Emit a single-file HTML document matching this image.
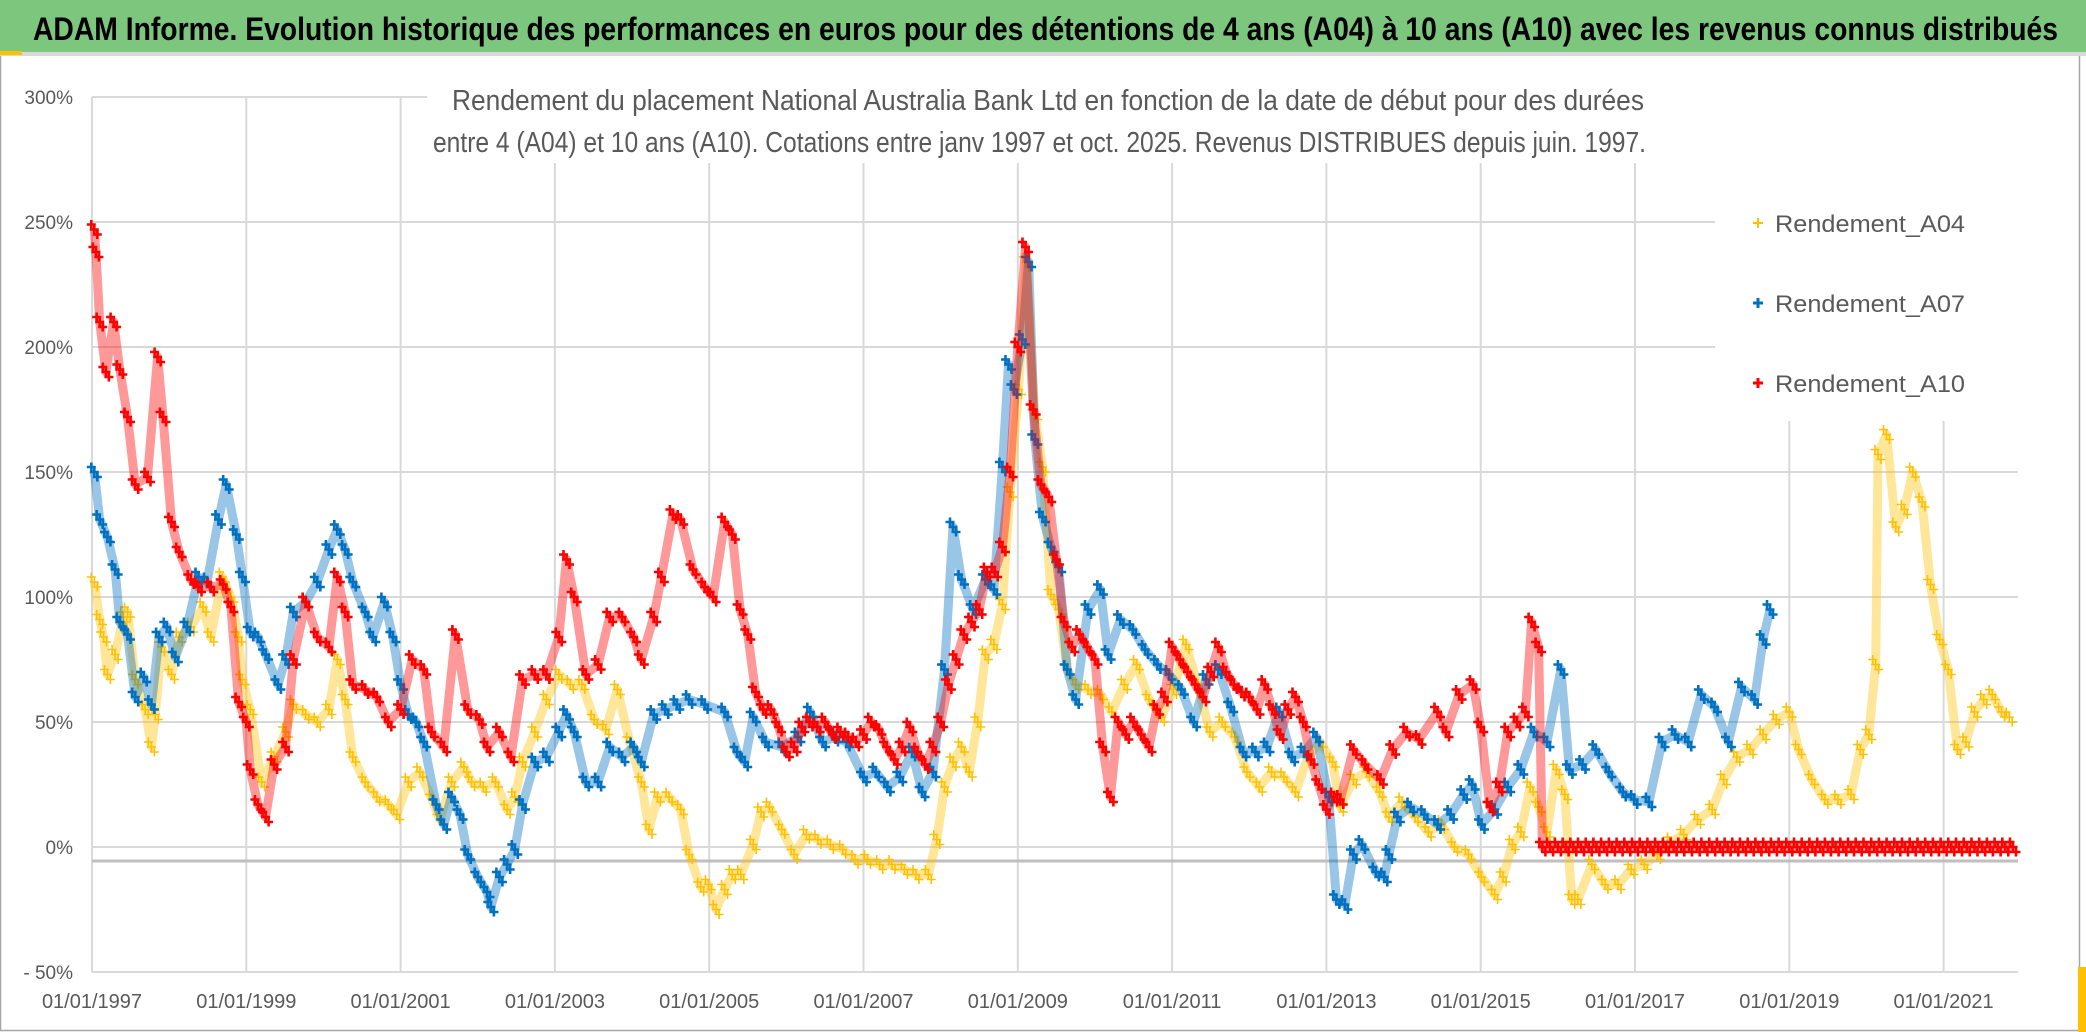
<!DOCTYPE html>
<html><head><meta charset="utf-8"><style>
html,body{margin:0;padding:0;background:#fff;}
svg{display:block;font-family:"Liberation Sans",sans-serif;}
</style></head><body>
<svg id="chart" width="2086" height="1032" viewBox="0 0 2086 1032">
<rect x="0" y="0" width="2086" height="1032" fill="#fff"/>
<rect x="0.5" y="0.5" width="2079" height="1030" fill="none" stroke="#a6a6a6" stroke-width="1.5"/>
<rect x="0" y="0" width="2086" height="52" fill="#7dc67e"/>
<rect x="0" y="52" width="2086" height="4" fill="#d9d9d9"/>
<rect x="0" y="51" width="22" height="4" fill="#ffc000"/>
<text x="33" y="40" font-size="32" font-weight="bold" fill="#000" textLength="2025" lengthAdjust="spacingAndGlyphs">ADAM Informe. Evolution historique des performances en euros pour des détentions de 4 ans (A04) à 10 ans (A10) avec les revenus connus distribués</text>
<rect x="2078" y="967" width="8" height="65" fill="#ffc000"/>
<g id="grid"></g>
<rect x="427" y="60" width="1593" height="103" fill="#fff"/>
<rect x="1715" y="163" width="305" height="258" fill="#fff"/>
<text x="452" y="110" font-size="29" fill="#595959" textLength="1192" lengthAdjust="spacingAndGlyphs">Rendement du placement National Australia Bank Ltd en fonction de la date de début pour des durées</text>
<text x="433" y="152" font-size="29" fill="#595959" textLength="1213" lengthAdjust="spacingAndGlyphs">entre 4 (A04) et 10 ans (A10). Cotations entre janv 1997 et oct. 2025. Revenus DISTRIBUES depuis juin. 1997.</text>
<g id="axes"></g>
<g id="series"></g>
<g id="legend">
  <g>
    <path d="M1753 223h10M1758 218v10" stroke="#ffc000" stroke-width="2"/>
    <text x="1775" y="232" font-size="24" fill="#595959" textLength="190" lengthAdjust="spacingAndGlyphs">Rendement_A04</text>
  </g>
  <g>
    <path d="M1753 303h10M1758 298v10" stroke="#0070c0" stroke-width="3"/>
    <text x="1775" y="312" font-size="24" fill="#595959" textLength="190" lengthAdjust="spacingAndGlyphs">Rendement_A07</text>
  </g>
  <g>
    <path d="M1753 383h10M1758 378v10" stroke="#ff0000" stroke-width="3"/>
    <text x="1775" y="392" font-size="24" fill="#595959" textLength="190" lengthAdjust="spacingAndGlyphs">Rendement_A10</text>
  </g>
</g>
</svg>
<script>
const yTicks = [-50, 0, 50, 100, 150, 200, 250, 300];
const yTickLabels = ["- 50%", "0%", "50%", "100%", "150%", "200%", "250%", "300%"];
const xTicks = [1997, 1999, 2001, 2003, 2005, 2007, 2009, 2011, 2013, 2015, 2017, 2019, 2021];
const xTickLabels = ["01/01/1997","01/01/1999","01/01/2001","01/01/2003","01/01/2005","01/01/2007","01/01/2009","01/01/2011","01/01/2013","01/01/2015","01/01/2017","01/01/2019","01/01/2021"];

const a04Years = [1997.03,1997.1,1997.15,1997.2,1997.3,1997.41,1997.46,1997.56,1997.69,1997.77,1997.82,1997.9,1998.03,1998.13,1998.28,1998.44,1998.54,1998.69,1998.8,1998.9,1998.95,1999.05,1999.2,1999.36,1999.51,1999.61,1999.77,1999.92,2000.07,2000.18,2000.28,2000.38,2000.54,2000.69,2000.84,2000.95,2001.1,2001.25,2001.41,2001.51,2001.66,2001.82,2001.92,2002.07,2002.23,2002.38,2002.48,2002.58,2002.74,2002.89,2003.05,2003.2,2003.35,2003.51,2003.66,2003.81,2003.97,2004.12,2004.22,2004.33,2004.48,2004.63,2004.74,2004.89,2004.99,2005.09,2005.2,2005.3,2005.41,2005.57,2005.67,2005.78,2005.94,2006.1,2006.26,2006.41,2006.57,2006.73,2006.89,2007.05,2007.21,2007.37,2007.53,2007.68,2007.84,2007.95,2008.05,2008.16,2008.27,2008.37,2008.48,2008.58,2008.69,2008.8,2008.9,2009.01,2009.11,2009.22,2009.32,2009.43,2009.53,2009.64,2009.75,2009.91,2010.07,2010.22,2010.38,2010.54,2010.7,2010.86,2011.02,2011.18,2011.33,2011.49,2011.65,2011.81,2011.97,2012.13,2012.29,2012.45,2012.6,2012.76,2012.92,2013.08,2013.18,2013.35,2013.52,2013.69,2013.81,2013.98,2014.15,2014.32,2014.49,2014.66,2014.84,2015.01,2015.18,2015.29,2015.41,2015.52,2015.64,2015.75,2015.86,2015.98,2016.09,2016.18,2016.26,2016.44,2016.61,2016.78,2016.95,2017.12,2017.29,2017.46,2017.63,2017.81,2018.0,2018.15,2018.32,2018.49,2018.66,2018.83,2019.0,2019.12,2019.29,2019.46,2019.63,2019.8,2019.92,2020.03,2020.12,2020.15,2020.26,2020.38,2020.49,2020.6,2020.72,2020.83,2020.95,2021.06,2021.18,2021.29,2021.4,2021.52,2021.63,2021.75,2021.85];
const a04Values = [106,91,84,69,77,92,94,67,55,40,53,80,69,84,88,96,84,108,100,84,67,55,26,36,46,57,53,50,55,75,59,36,26,20,17,13,26,30,19,11,26,32,26,24,26,15,20,34,46,59,69,65,65,51,47,63,42,26,7,20,20,15,-3,-16,-15,-25,-17,-11,-11,1,14,16,7,-3,5,3,1,-1,-5,-5,-7,-7,-9,-11,-11,3,24,34,40,30,50,77,81,97,142,183,234,173,152,101,95,71,65,63,61,54,65,73,59,52,63,81,65,46,50,44,30,24,30,28,22,36,42,34,16,27,30,22,12,18,12,6,9,0,-3,-12,-19,-12,1,6,24,16,6,31,21,-21,-21,-7,-15,-15,-9,-7,-3,2,5,11,15,27,36,39,45,51,54,39,27,19,19,21,39,45,73,157,165,128,135,150,138,105,83,71,39,42,54,59,61,54,52];

const a07Years = [1997.03,1997.1,1997.2,1997.3,1997.36,1997.46,1997.56,1997.67,1997.77,1997.87,1997.97,1998.08,1998.23,1998.38,1998.49,1998.64,1998.74,1998.87,1998.95,1999.05,1999.15,1999.25,1999.41,1999.51,1999.61,1999.77,1999.92,2000.07,2000.18,2000.28,2000.38,2000.54,2000.64,2000.79,2000.9,2001.0,2001.1,2001.2,2001.3,2001.46,2001.56,2001.66,2001.77,2001.87,2002.0,2002.12,2002.17,2002.28,2002.38,2002.48,2002.58,2002.74,2002.89,2003.05,2003.15,2003.25,2003.4,2003.56,2003.71,2003.87,2004.02,2004.12,2004.28,2004.43,2004.58,2004.74,2004.94,2005.2,2005.36,2005.46,2005.57,2005.73,2005.94,2006.15,2006.31,2006.47,2006.63,2006.78,2007.0,2007.16,2007.31,2007.47,2007.63,2007.76,2007.9,2008.05,2008.16,2008.27,2008.42,2008.58,2008.69,2008.8,2008.88,2008.95,2009.06,2009.14,2009.22,2009.32,2009.43,2009.53,2009.64,2009.75,2009.91,2010.07,2010.17,2010.33,2010.49,2010.65,2010.81,2010.96,2011.12,2011.28,2011.44,2011.6,2011.76,2011.92,2012.08,2012.23,2012.39,2012.55,2012.71,2012.87,2013.03,2013.13,2013.24,2013.35,2013.46,2013.64,2013.75,2013.81,2013.92,2014.09,2014.27,2014.44,2014.61,2014.78,2014.89,2015.01,2015.18,2015.35,2015.52,2015.69,2015.86,2016.04,2016.15,2016.32,2016.49,2016.66,2016.84,2016.99,2017.18,2017.35,2017.52,2017.69,2017.86,2018.03,2018.21,2018.38,2018.55,2018.66,2018.75];
const a07Values = [150,131,124,111,90,85,60,68,57,84,88,76,88,108,106,131,145,125,108,86,84,77,65,75,94,98,106,119,127,119,106,94,84,98,84,65,53,50,42,17,9,20,13,-3,-12,-18,-24,-12,-7,-1,17,34,36,46,53,46,26,26,40,36,40,34,53,55,57,59,57,54,38,34,52,42,40,44,54,42,44,42,28,30,24,28,38,22,30,71,128,107,95,107,103,152,193,183,203,234,163,132,120,112,71,59,95,103,77,91,87,79,73,69,63,50,67,71,56,38,38,40,54,36,38,44,20,-21,-23,-3,1,-10,-12,-3,12,16,13,9,13,21,25,9,15,24,31,46,42,71,31,33,39,30,22,19,18,42,45,42,61,56,42,64,59,83,95];

const a10Years = [1997.03,1997.05,1997.1,1997.18,1997.28,1997.36,1997.46,1997.56,1997.72,1997.85,1997.92,1998.03,1998.13,1998.28,1998.38,1998.54,1998.7,1998.8,1998.9,1999.0,1999.05,1999.15,1999.25,1999.36,1999.51,1999.61,1999.77,1999.92,2000.07,2000.18,2000.28,2000.38,2000.54,2000.69,2000.84,2001.0,2001.15,2001.3,2001.4,2001.56,2001.71,2001.87,2002.02,2002.12,2002.28,2002.43,2002.58,2002.74,2002.89,2003.05,2003.15,2003.25,2003.4,2003.56,2003.71,2003.87,2004.02,2004.12,2004.28,2004.38,2004.53,2004.63,2004.79,2004.94,2005.05,2005.2,2005.3,2005.4,2005.5,2005.6,2005.7,2005.8,2005.9,2006.0,2006.1,2006.2,2006.3,2006.4,2006.5,2006.6,2006.7,2006.8,2006.9,2007.0,2007.1,2007.2,2007.3,2007.4,2007.5,2007.6,2007.7,2007.8,2007.9,2008.0,2008.1,2008.2,2008.3,2008.4,2008.5,2008.6,2008.7,2008.8,2008.9,2009.0,2009.1,2009.2,2009.3,2009.4,2009.5,2009.6,2009.7,2009.8,2009.9,2010.0,2010.1,2010.2,2010.3,2010.4,2010.5,2010.6,2010.7,2010.8,2010.9,2011.0,2011.1,2011.2,2011.3,2011.4,2011.5,2011.6,2011.7,2011.8,2011.9,2012.0,2012.1,2012.2,2012.3,2012.4,2012.5,2012.6,2012.7,2012.8,2012.9,2013.0,2013.1,2013.18,2013.35,2013.5,2013.7,2013.86,2014.04,2014.2,2014.44,2014.55,2014.72,2014.9,2015.0,2015.12,2015.24,2015.35,2015.47,2015.58,2015.66,2015.75,2015.8,2015.9,2016.0,2016.1,2016.2,2016.3,2016.4,2016.5,2016.6,2016.7,2016.8,2016.9,2017.0,2017.1,2017.2,2017.3,2017.4,2017.5,2017.6,2017.7,2017.8,2017.9,2018.0,2018.1,2018.2,2018.3,2018.4,2018.5,2018.6,2018.7,2018.8,2018.9,2019.0,2019.1,2019.2,2019.3,2019.4,2019.5,2019.6,2019.7,2019.8,2019.9,2020.0,2020.1,2020.2,2020.3,2020.4,2020.5,2020.6,2020.7,2020.8,2020.9,2021.0,2021.1,2021.2,2021.3,2021.4,2021.5,2021.6,2021.7,2021.8,2021.9,2021.95];
const a10Values = [247,238,210,190,210,191,172,145,148,196,172,130,118,107,104,104,105,96,58,50,31,17,12,33,40,75,98,84,80,108,94,65,63,60,50,55,75,71,46,40,85,55,51,40,46,36,67,69,69,84,115,100,69,73,92,92,84,75,92,108,133,131,111,104,100,130,125,95,85,62,55,55,48,38,40,48,50,48,50,45,46,44,42,45,50,47,40,35,40,48,38,33,40,50,65,75,85,90,95,110,110,120,150,200,240,175,145,140,115,90,80,85,80,75,40,20,50,45,50,45,40,55,60,80,75,70,65,60,70,80,70,65,62,60,55,65,55,45,55,60,50,35,25,15,20,19,39,33,27,39,46,43,54,46,61,65,48,16,24,46,50,54,90,80,0,0,0,0,0,0,0,0,0,0,0,0,0,0,0,0,0,0,0,0,0,0,0,0,0,0,0,0,0,0,0,0,0,0,0,0,0,0,0,0,0,0,0,0,0,0,0,0,0,0,0,0,0,0,0,0,0,0,0,0,0,0];

const NS = "http://www.w3.org/2000/svg";
function xScale(year){ return 92 + (year - 1997) * 77.15; }
function yScale(v){ return 847 - v * 2.5; }
const PLOT_L = 92, PLOT_R = 2018;

const grid = document.getElementById('grid');
yTicks.forEach(function(t){
  const ln = document.createElementNS(NS,'line');
  ln.setAttribute('x1', PLOT_L); ln.setAttribute('x2', PLOT_R);
  ln.setAttribute('y1', yScale(t)); ln.setAttribute('y2', yScale(t));
  ln.setAttribute('stroke', '#d9d9d9'); ln.setAttribute('stroke-width', '2');
  
  
  grid.appendChild(ln);
});
xTicks.forEach(function(t){
  const ln = document.createElementNS(NS,'line');
  ln.setAttribute('x1', xScale(t)); ln.setAttribute('x2', xScale(t));
  ln.setAttribute('y1', yScale(300)); ln.setAttribute('y2', yScale(-50));
  ln.setAttribute('stroke', '#d9d9d9'); ln.setAttribute('stroke-width', '2');
  
  
  grid.appendChild(ln);
});

const axes = document.getElementById('axes');
const axisLine = document.createElementNS(NS,'line');
axisLine.setAttribute('x1', PLOT_L); axisLine.setAttribute('x2', PLOT_R);
axisLine.setAttribute('y1', 861); axisLine.setAttribute('y2', 861);
axisLine.setAttribute('stroke', '#bfbfbf'); axisLine.setAttribute('stroke-width', '3');


axes.appendChild(axisLine);

yTicks.forEach(function(t, i){
  const tx = document.createElementNS(NS,'text');
  tx.setAttribute('x', 73); tx.setAttribute('y', yScale(t) + 7);
  tx.setAttribute('text-anchor', 'end'); tx.setAttribute('font-size', '19');
  tx.setAttribute('fill', '#595959');
  
  
  tx.textContent = yTickLabels[i];
  axes.appendChild(tx);
});
xTicks.forEach(function(t, i){
  const tx = document.createElementNS(NS,'text');
  tx.setAttribute('x', xScale(t)); tx.setAttribute('y', 1008);
  tx.setAttribute('text-anchor', 'middle'); tx.setAttribute('font-size', '20');
  tx.setAttribute('fill', '#595959');
  
  
  tx.textContent = xTickLabels[i];
  axes.appendChild(tx);
});

const seriesG = document.getElementById('series');
function drawSeries(years, values, color, name, sw){
  const g = document.createElementNS(NS,'g');
  
  
  let pts = [];
  years.forEach(function(yr, i){ pts.push(xScale(yr).toFixed(1) + ',' + yScale(values[i]).toFixed(1)); });
  const pl = document.createElementNS(NS,'polyline');
  pl.setAttribute('points', pts.join(' '));
  pl.setAttribute('fill', 'none'); pl.setAttribute('stroke', color);
  pl.setAttribute('stroke-width', '9'); pl.setAttribute('stroke-opacity', '0.4');
  pl.setAttribute('stroke-linejoin', 'round');
  
  
  g.appendChild(pl);
  let d = '';
  years.forEach(function(yr, i){
    const cx = xScale(yr), cy = yScale(values[i]);
    [[-3,-5],[0,0],[3,5]].forEach(function(o){
      const x = cx + o[0], y = cy + o[1];
      d += 'M' + (x-4.5).toFixed(1) + ' ' + y.toFixed(1) + 'h9M' + x.toFixed(1) + ' ' + (y-4.5).toFixed(1) + 'v9';
    });
  });
  const p = document.createElementNS(NS,'path');
  p.setAttribute('d', d); p.setAttribute('stroke', color); p.setAttribute('stroke-width', sw);
  p.setAttribute('fill', 'none');
  
  
  g.appendChild(p);
  seriesG.appendChild(g);
}
drawSeries(a04Years, a04Values, '#ffc000', 'series-a04', 1.6);
drawSeries(a07Years, a07Values, '#0070c0', 'series-a07', 2.6);
drawSeries(a10Years, a10Values, '#ff0000', 'series-a10', 2.6);
</script>
</body></html>
